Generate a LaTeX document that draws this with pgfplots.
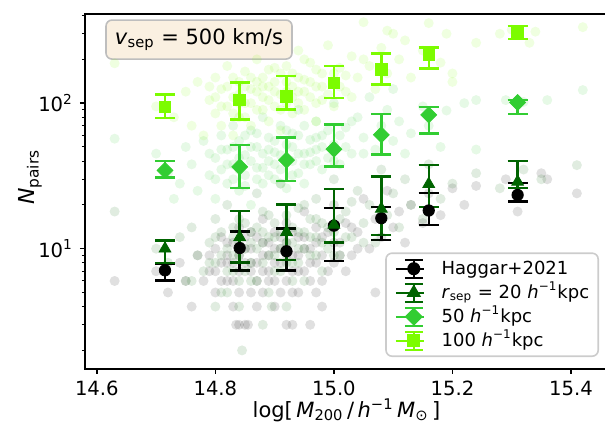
\documentclass[border=0pt]{standalone}
\usepackage{fontspec}
\setmainfont{DejaVu Sans}
\usepackage{pgfplots}
\pgfplotsset{compat=1.18}
\usepackage{pgfplotstable}

\definecolor{dgreen}{RGB}{0,100,0}
\definecolor{lgreen}{RGB}{50,205,50}
\definecolor{lawn}{RGB}{124,252,0}
\definecolor{boxfill}{RGB}{250,240,225}
\definecolor{boxedge}{RGB}{190,190,190}
\definecolor{legedge}{RGB}{204,204,204}

\newcommand{\hinv}{\textit{h}\textsuperscript{−1}}

\pgfplotstableread{
x y ep em
14.715 7.1 0.8 1.05
14.841 10.1 3.0 3.0
14.92 9.6 4.2 2.5
15.0 14.4 4.7 6.2
15.08 16.2 3.1 4.7
15.16 18.3 5.8 3.7
15.31 23.4 5.0 2.3
}\haggar

\pgfplotstableread{
x y ep em
14.715 10.0 1.4 2.0
14.841 12.0 6.1 3.95
14.92 13.0 7.1 4.6
15.0 14.6 11.2 3.6
15.08 18.8 12.6 6.4
15.16 27.8 9.8 8.5
15.31 28.8 11.3 2.8
}\rtwenty

\pgfplotstableread{
x y ep em
14.715 34.5 5.6 3.7
14.841 36.5 15.2 10.4
14.92 40.6 17.4 11.4
15.0 48.3 22.9 11.5
15.08 60.6 23.8 16.2
15.16 83.0 10.9 21.0
15.31 101 4.0 17.0
}\rfifty

\pgfplotstableread{
x y ep em
14.715 94 21 15.1
14.841 105 34 27.7
14.92 111.7 41.3 21.2
15.0 138 42.3 29.5
15.08 170 50 36
15.16 217 25 44
15.31 311 29 34
}\rhundred

\pgfplotsset{
  errleg/.style 2 args={legend image code/.code={
     \path (0pt,0pt) -- (14pt,0pt);
     \draw[#1, line width=1.2pt, draw opacity=1] (9pt,-4.5pt) -- (9pt,4.5pt) (4.5pt,-4.5pt) -- (13.5pt,-4.5pt) (4.5pt,4.5pt) -- (13.5pt,4.5pt);
     \draw[#1, only marks, #2, fill opacity=1, draw opacity=1] plot coordinates {(9pt,0pt)};
  }},
  errstyle/.style={
     error bars/y dir=both, error bars/y explicit,
     error bars/error mark=|,
     error bars/error bar style={line width=1.2pt, solid, #1},
     error bars/error mark options={line width=1.2pt, mark size=5pt, solid, #1}
  },
  bg/.style={only marks, mark=*, mark size=2.5pt, forget plot,
     mark options={draw opacity=0, fill=#1, fill opacity=0.12}}
}

\begin{document}
\begin{tikzpicture}
\useasboundingbox (-42.5pt,-30pt) rectangle (260pt,184.5pt);
\begin{axis}[
  scale only axis, width=261.5pt, height=177.5pt,
  at={(0pt,0pt)}, anchor=south west,
  xmin=14.58, xmax=15.4625,
  ymode=log, ymin=1.49, ymax=410,
  xtick={14.6,14.8,15.0,15.2,15.4},
  xticklabels={14.6,14.8,15.0,15.2,15.4},
  ytick={10,100},
  yticklabels={10\textsuperscript{1},10\textsuperscript{2}},
  minor ytick={2,3,4,5,6,7,8,9,20,30,40,50,60,70,80,90,200,300,400},
  tick pos=left, tick align=outside,
  major tick length=2.5pt, minor tick length=1.5pt,
  every major tick/.append style={line width=0.8pt, black},
  every minor tick/.append style={line width=0.5pt, black},
  axis line style={line width=1pt},
  ticklabel style={font=\fontsize{9.8}{11}\selectfont},
  xlabel={log[\,\textit{M}\textsubscript{200}\,/\,\hinv\,\textit{M}\textsubscript{⊙}\,]},
  ylabel={\textit{N}\textsubscript{pairs}},
  xlabel style={font=\fontsize{10.5}{12}\selectfont, at={(axis description cs:0.5,-0.1155)}, anchor=center},
  ylabel style={font=\fontsize{11}{13}\selectfont, at={(axis description cs:-0.105,0.54)}, anchor=center},
  legend style={
    at={(axis description cs:0.9828,0.0338)}, anchor=south east,
    draw=legedge, line width=0.8pt, rounded corners=3pt,
    fill=white, fill opacity=0.8, text opacity=1, draw opacity=1,
    font=\fontsize{9}{10.8}\selectfont,
    inner xsep=4.5pt, inner ysep=2.5pt,
    column sep=8.5pt, row sep=1.5pt,
    nodes={inner sep=0pt, text height=8pt, text depth=2.5pt},
  },
  legend cell align=left,
]

% background scatter (individual clusters)
\addplot[bg=black] coordinates {
(14.63,6) (14.70,7) (14.72,5) (14.74,8) (14.75,6) (14.76,4) (14.77,9) (14.78,6)
(14.79,7) (14.80,10) (14.80,5) (14.81,8) (14.81,12) (14.82,6) (14.82,9) (14.83,4)
(14.83,11) (14.84,7) (14.84,14) (14.85,3) (14.85,10) (14.86,8) (14.86,5) (14.87,12)
(14.87,6) (14.88,9) (14.88,16) (14.89,7) (14.89,11) (14.90,4) (14.90,13) (14.91,8)
(14.91,10) (14.92,6) (14.92,15) (14.93,9) (14.93,5) (14.94,12) (14.94,7) (14.95,10)
(14.95,18) (14.96,8) (14.96,3) (14.97,11) (14.97,14) (14.98,6) (14.98,9) (14.99,13)
(15.00,20) (15.00,8) (15.01,11) (15.02,15) (15.03,9) (15.04,13) (15.05,22) (15.06,10)
(15.07,16) (15.08,12) (15.09,25) (15.10,14) (15.11,18) (15.12,11) (15.13,20) (15.15,15)
(15.16,24) (15.18,17) (15.20,26) (15.22,20) (15.24,27) (15.29,30) (15.31,18) (15.35,33)
(15.36,30) (15.41,24) (14.84,3) (14.92,3) (14.86,7) (14.90,6) (14.88,5) (14.82,8)
(14.855,3) (14.98,4) (14.93,3) (15.07,5) (14.97,5) (14.835,3)
(14.79,9) (14.80,7) (14.81,6) (14.82,11) (14.83,8) (14.83,6) (14.84,9) (14.84,5)
(14.85,8) (14.85,12) (14.86,10) (14.86,13) (14.87,8) (14.87,4) (14.88,7) (14.88,11)
(14.89,9) (14.89,6) (14.90,8) (14.90,10) (14.91,12) (14.91,5) (14.92,9) (14.92,11)
(14.93,7) (14.93,13) (14.94,9) (14.94,5) (14.95,7) (14.95,12) (14.96,10) (14.96,6)
(14.97,8) (14.98,12) (14.99,7) (15.00,11) (15.01,9) (15.02,7) (15.03,14) (15.04,10)
};
\addplot[bg=dgreen] coordinates {
(14.63,18) (14.70,10) (14.72,8) (14.74,12) (14.75,6) (14.76,14) (14.77,9) (14.78,7)
(14.79,11) (14.80,16) (14.80,8) (14.81,5) (14.81,13) (14.82,10) (14.82,20) (14.83,7)
(14.83,12) (14.84,4) (14.84,9) (14.845,2) (14.85,15) (14.86,11) (14.86,6) (14.87,24)
(14.87,10) (14.88,8) (14.88,13) (14.89,5) (14.89,17) (14.90,9) (14.90,12) (14.91,7)
(14.91,28) (14.92,11) (14.92,4) (14.93,14) (14.93,8) (14.94,19) (14.94,10) (14.95,6)
(14.95,13) (14.96,16) (14.96,9) (14.97,22) (14.97,12) (14.98,7) (14.98,15) (14.99,10)
(15.00,30) (15.00,13) (15.01,9) (15.02,18) (15.03,12) (15.04,25) (15.05,15) (15.06,20)
(15.07,11) (15.08,35) (15.09,17) (15.10,24) (15.11,14) (15.12,30) (15.13,20) (15.15,16)
(15.16,38) (15.18,22) (15.20,28) (15.24,33) (15.28,26) (15.32,35) (15.35,30) (15.41,37.5)
(14.88,3) (14.80,4) (14.895,4) (14.84,6) (14.76,6) (14.82,5)
(14.79,8) (14.80,12) (14.81,9) (14.82,7) (14.83,14) (14.83,9) (14.84,11) (14.84,16)
(14.85,7) (14.85,10) (14.86,13) (14.86,8) (14.87,14) (14.87,6) (14.88,11) (14.88,18)
(14.89,9) (14.89,12) (14.90,7) (14.90,15) (14.91,10) (14.91,13) (14.92,8) (14.92,17)
(14.93,11) (14.93,6) (14.94,13) (14.94,8) (14.95,10) (14.95,20) (14.96,12) (14.97,9)
(14.97,16) (14.98,11) (14.99,14) (15.00,9) (15.01,16) (15.02,12) (15.03,21) (15.05,11)
};
\addplot[bg=lgreen] coordinates {
(14.63,57) (14.70,45) (14.72,33) (14.74,28) (14.75,50) (14.76,38) (14.77,25) (14.78,55)
(14.79,32) (14.80,42) (14.80,22) (14.81,60) (14.81,35) (14.82,28) (14.82,48) (14.83,70)
(14.83,38) (14.84,25) (14.84,55) (14.85,32) (14.85,44) (14.86,20) (14.86,65) (14.87,36)
(14.87,50) (14.88,28) (14.88,80) (14.89,40) (14.89,58) (14.90,30) (14.90,46) (14.91,35)
(14.91,70) (14.92,26) (14.92,52) (14.93,40) (14.93,62) (14.94,33) (14.94,90) (14.95,45)
(14.95,28) (14.96,56) (14.96,38) (14.97,75) (14.97,48) (14.98,35) (14.98,60) (14.99,42)
(15.00,100) (15.00,52) (15.01,38) (15.02,68) (15.03,45) (15.04,80) (15.05,58) (15.06,110)
(15.07,48) (15.08,70) (15.09,90) (15.10,55) (15.11,75) (15.12,45) (15.13,62) (15.15,95)
(15.16,70) (15.18,50) (15.19,89) (15.22,100) (15.24,105) (15.24,48) (15.29,105) (15.32,102)
(15.36,105) (15.42,123) (15.10,125) (14.73,22)
(14.79,45) (14.80,30) (14.81,48) (14.82,38) (14.83,50) (14.83,30) (14.84,42) (14.84,35)
(14.85,60) (14.85,27) (14.86,40) (14.86,50) (14.87,30) (14.87,62) (14.88,45) (14.88,36)
(14.89,32) (14.89,48) (14.90,55) (14.90,38) (14.91,44) (14.91,28) (14.92,40) (14.92,65)
(14.93,32) (14.93,50) (14.94,45) (14.94,60) (14.95,38) (14.95,70) (14.96,46) (14.97,40)
(14.97,58) (14.98,50) (14.99,65) (15.00,40) (15.01,60) (15.02,50) (15.03,75) (15.05,45)
};
\addplot[bg=lawn] coordinates {
(14.63,188) (14.70,95) (14.73,80) (14.75,120) (14.76,70) (14.77,140) (14.78,60) (14.79,105)
(14.80,85) (14.80,150) (14.81,70) (14.81,125) (14.82,95) (14.82,180) (14.83,60) (14.83,110)
(14.84,80) (14.84,140) (14.85,100) (14.85,165) (14.86,70) (14.86,125) (14.87,90) (14.87,200)
(14.88,110) (14.88,150) (14.89,75) (14.89,130) (14.90,95) (14.90,175) (14.91,115) (14.91,65)
(14.92,140) (14.92,100) (14.93,85) (14.93,160) (14.94,120) (14.94,230) (14.95,90) (14.95,145)
(14.96,110) (14.96,190) (14.97,130) (14.97,75) (14.98,160) (14.98,105) (14.99,250) (15.00,135)
(15.00,95) (15.01,175) (15.02,120) (15.03,210) (15.04,150) (15.05,360) (15.06,180) (15.07,125)
(15.08,240) (15.09,160) (15.10,300) (15.11,200) (15.12,270) (15.13,150) (15.15,230) (15.16,355)
(15.18,190) (15.19,300) (15.20,160) (15.24,260) (15.28,300) (15.30,320) (15.33,260) (15.34,310)
(15.42,333) (15.20,140) (15.09,315)
(14.79,130) (14.80,110) (14.81,95) (14.82,130) (14.83,85) (14.83,150) (14.84,115) (14.84,100)
(14.85,130) (14.85,80) (14.86,150) (14.86,100) (14.87,120) (14.87,140) (14.88,90) (14.88,130)
(14.89,105) (14.89,170) (14.90,120) (14.90,140) (14.91,90) (14.91,160) (14.92,120) (14.92,180)
(14.93,110) (14.93,130) (14.94,100) (14.94,150) (14.95,120) (14.95,200) (14.96,140) (14.97,100)
(14.97,170) (14.98,130) (14.99,115) (15.00,160) (15.01,130) (15.02,155) (15.03,110) (15.05,200)
};

% binned means with error bars
\addplot[only marks, mark=*, mark size=2.85pt, color=black, errstyle=black,
  errleg={black}{mark=*, mark size=2.85pt}]
  table[x=x, y=y, y error plus=ep, y error minus=em] {\haggar};
\addlegendentry{Haggar+2021}

\addplot[only marks, mark=triangle*, mark size=3.4pt, color=dgreen, errstyle=dgreen,
  errleg={dgreen}{mark=triangle*, mark size=3.4pt}]
  table[x=x, y=y, y error plus=ep, y error minus=em] {\rtwenty};
\addlegendentry{\textit{r}\textsubscript{sep} = 20 \hinv{}kpc}

\addplot[only marks, mark=square*, mark size=2.8pt, mark options={rotate=45}, color=lgreen, errstyle=lgreen,
  errleg={lgreen}{mark=square*, mark size=2.8pt, mark options={rotate=45}}]
  table[x=x, y=y, y error plus=ep, y error minus=em] {\rfifty};
\addlegendentry{50 \hinv{}kpc}

\addplot[only marks, mark=square*, mark size=2.9pt, color=lawn, errstyle=lawn,
  errleg={lawn}{mark=square*, mark size=2.9pt}]
  table[x=x, y=y, y error plus=ep, y error minus=em] {\rhundred};
\addlegendentry{100 \hinv{}kpc}

\node[draw=boxedge, line width=0.8pt, fill=boxfill, rounded corners=3pt,
  minimum width=93pt, minimum height=19.5pt, inner xsep=4pt,
  font=\fontsize{10.5}{12}\selectfont]
  at (axis description cs:0.218,0.928) {\textit{v}\textsubscript{sep} = 500 km/s};
\end{axis}
\end{tikzpicture}
\end{document}
